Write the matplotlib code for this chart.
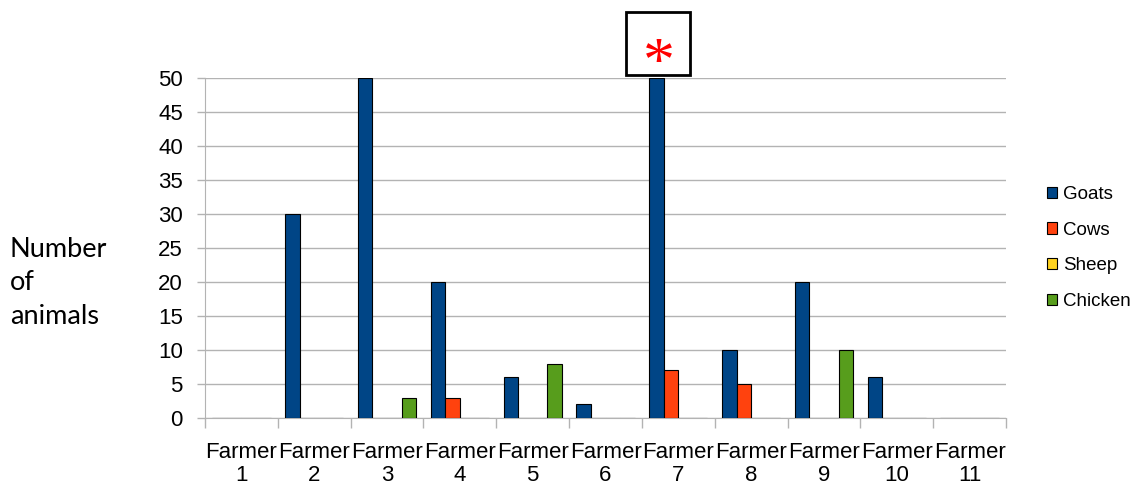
import numpy as np
import matplotlib.pyplot as plt
from matplotlib.patches import Rectangle

farmers = ["Farmer\n%d" % i for i in range(1, 12)]
goats = [0, 30, 50, 20, 6, 2, 50, 10, 20, 6, 0]
cows = [0, 0, 0, 3, 0, 0, 7, 5, 0, 0, 0]
sheep = [0] * 11
chicken = [0, 0, 3, 0, 8, 0, 0, 0, 10, 0, 0]

series = [("Goats", goats, "#004586"),
          ("Cows", cows, "#ff420e"),
          ("Sheep", sheep, "#ffd320"),
          ("Chicken", chicken, "#579d1c")]

plt.rcParams['font.family'] = ['Liberation Sans', 'DejaVu Sans']

fig = plt.figure(figsize=(11.32, 4.84), dpi=100)
ax = fig.add_axes([205 / 1132, 66 / 484, 801 / 1132, 340 / 484])

x = np.arange(len(farmers))
w = 0.2
handles = []
for k, (name, vals, col) in enumerate(series):
    b = ax.bar(x + (k - 1.5) * w, vals, w, color=col, edgecolor='black',
               linewidth=0.8, label=name, zorder=3)
    handles.append(b)

ax.set_xlim(-0.5, len(farmers) - 0.5)
ax.set_ylim(0, 50)
ax.set_yticks(range(0, 51, 5))
ax.yaxis.grid(True, color='#b3b3b3', linewidth=1, zorder=0)

# category labels sit between boundary ticks
ax.set_xticks(np.arange(-0.5, len(farmers)), minor=False)
ax.set_xticklabels([])
ax.set_xticks(x, minor=True)
ax.set_xticklabels(farmers, minor=True, fontsize=16, linespacing=1.15)
ax.tick_params(axis='x', which='minor', length=0, pad=17)
ax.tick_params(axis='x', which='major', length=7, color='#b3b3b3', width=1)
ax.tick_params(axis='y', length=6, color='#b3b3b3', width=1, labelsize=16, pad=10)

for s in ['top', 'right']:
    ax.spines[s].set_visible(False)
ax.spines['left'].set_color('#b3b3b3')
ax.spines['bottom'].set_color('#b3b3b3')

fig.text(10 / 1132, 1 - 283 / 484, "Number\nof\nanimals", fontsize=19.5,
         family=['Lato', 'DejaVu Sans'], va='center', ha='left', linespacing=1.42)

leg = fig.legend(handles=handles, loc='center left',
                 bbox_to_anchor=(1047 / 1132, 1 - 248 / 484),
                 frameon=False, fontsize=13.5, handlelength=0.55, handleheight=0.55,
                 handletextpad=0.3, labelspacing=1.0, borderpad=0, borderaxespad=0)

# marker box above the seventh farmer
fig.patches.append(Rectangle((626 / 1132, 1 - 75 / 484), 64 / 1132, 63 / 484,
                             transform=fig.transFigure, fill=False,
                             edgecolor='black', linewidth=2))
fig.text(659 / 1132, 1 - 66 / 484, "*", color='red', fontsize=46,
         family=['Liberation Serif', 'DejaVu Serif'], ha='center', va='center')

fig.savefig("out.png", dpi=100)
